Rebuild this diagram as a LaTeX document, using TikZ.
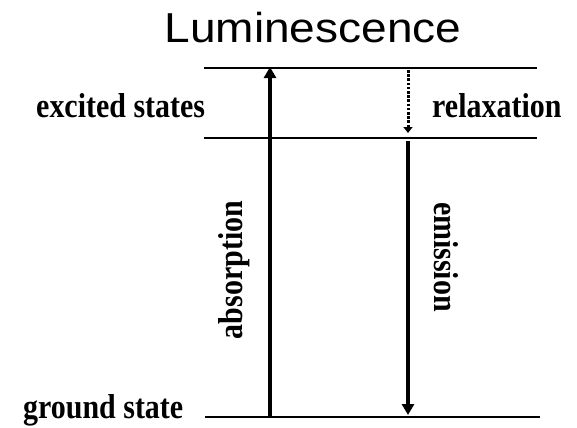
\documentclass[tikz,border=0pt]{standalone}
\usepackage{fontspec}
\setmainfont{Liberation Serif}
\newfontfamily\lumsans{Liberation Sans}
\usetikzlibrary{arrows.meta}
\newcommand{\tallbf}[1]{\scalebox{0.97}[1.12]{#1}}
\begin{document}
\begin{tikzpicture}[x=1bp,y=-1bp,
  level/.style={line width=1.3bp},
  bigarrow/.style={line width=4bp,-{Triangle[length=11bp,width=12bp]}},
  relaxarrow/.style={line width=3bp,dash pattern=on 2.6bp off 1.6bp,-{Triangle[length=6bp,width=9bp]}},
  lbl/.style={font=\fontsize{31}{31}\selectfont\bfseries,inner sep=0pt}]
\useasboundingbox (0,0) rectangle (577,427);
% levels
\coordinate (t1) at (204,68);  \coordinate (t2) at (537,68);
\coordinate (m1) at (204,138); \coordinate (m2) at (537,138);
\coordinate (g1) at (205,417); \coordinate (g2) at (540,417);
\draw[level] (t1) -- (t2);
\draw[level] (m1) -- (m2);
\draw[level] (g1) -- (g2);
% arrows
\coordinate (absB) at (270,417); \coordinate (absT) at (270,67);
\coordinate (relT) at (408,70);  \coordinate (relB) at (408,133);
\coordinate (emT) at (408,141);  \coordinate (emB) at (408,415);
\draw[bigarrow] (absB) -- (absT);
\draw[relaxarrow] (relT) -- (relB);
\draw[bigarrow] (emT) -- (emB);
% labels
\node[inner sep=0pt,anchor=base] (title) at (313,42)
  {\lumsans\fontsize{42}{42}\selectfont\scalebox{1.1}[1]{Luminescence}};
\node[lbl,anchor=base west] (exc) at (36,117) {\tallbf{excited states}};
\node[lbl,anchor=base west] (rel) at (432,117) {\tallbf{relaxation}};
\node[lbl,anchor=base west] (gnd) at (23,418) {\tallbf{ground state}};
\node[lbl,anchor=base,rotate=90] (abs) at (242,270) {\tallbf{absorption}};
\node[lbl,anchor=base,rotate=-90] (emi) at (434,257) {\tallbf{emission}};
\end{tikzpicture}
\end{document}
